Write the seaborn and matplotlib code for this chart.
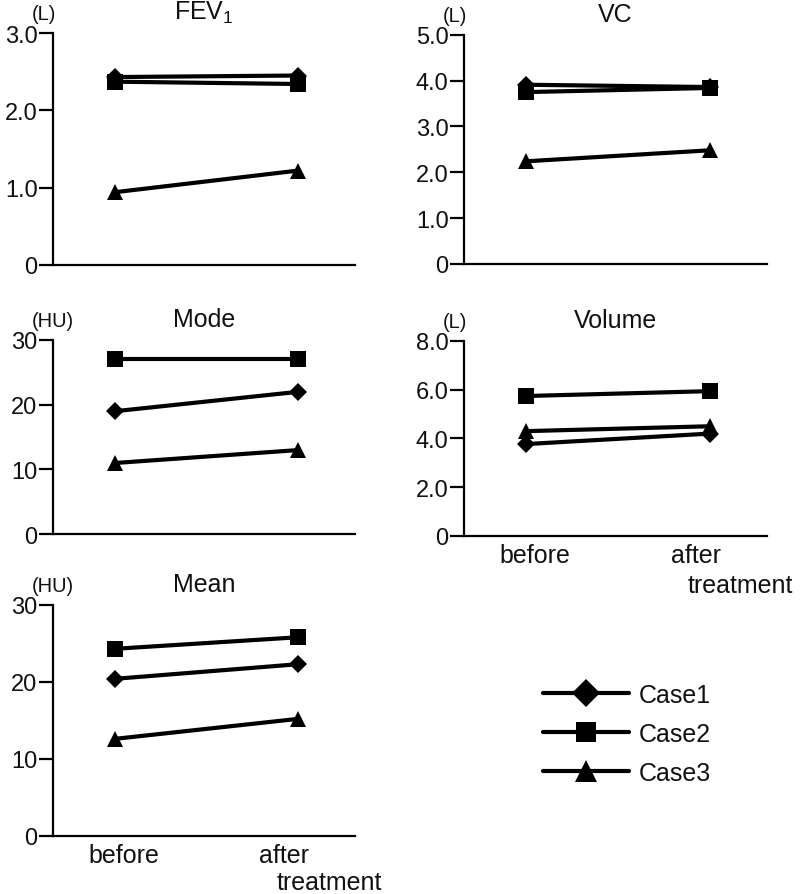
import numpy as np
import pandas as pd
import matplotlib
matplotlib.use('Agg')
import matplotlib.pyplot as plt
from matplotlib.transforms import ScaledTranslation
import seaborn as sns

cases = ['Case1', 'Case2', 'Case3']
timepoints = ['before', 'after']

# values per case: [before, after]
fev1 = [[2.43, 2.45], [2.37, 2.34], [0.94, 1.22]]
vc = [[3.91, 3.86], [3.75, 3.84], [2.24, 2.48]]
mode = [[19, 22], [27, 27], [11, 13]]
volume = [[3.77, 4.20], [5.74, 5.94], [4.30, 4.50]]
mean = [[20.4, 22.3], [24.3, 25.8], [12.6, 15.2]]

fev1_ticks = [0, 1.0, 2.0, 3.0]
vc_ticks = [0, 1.0, 2.0, 3.0, 4.0, 5.0]
hu_ticks = [0, 10, 20, 30]
volume_ticks = [0, 2.0, 4.0, 6.0, 8.0]


def to_long(values):
    rows = []
    for case, vals in zip(cases, values):
        for i, v in enumerate(vals):
            rows.append({'Case': case, 'x': i, 'value': v})
    return pd.DataFrame(rows)


sns.set_theme(style='white')
plt.rcParams['font.family'] = ['Liberation Sans', 'DejaVu Sans']
plt.rcParams['mathtext.fontset'] = 'custom'
plt.rcParams['mathtext.rm'] = 'Liberation Sans'

TXT = '#111111'
fig = plt.figure(figsize=(8, 8.95), dpi=100)

panels = [
    # title, unit, data, ticks, rect, show x labels
    (r'FEV$\mathregular{_1}$', '(L)', fev1, fev1_ticks, [0.066, 0.703, 0.378, 0.259], False),
    ('VC', '(L)', vc, vc_ticks, [0.580, 0.704, 0.379, 0.256], False),
    ('Mode', '(HU)', mode, hu_ticks, [0.066, 0.402, 0.378, 0.217], False),
    ('Volume', '(L)', volume, volume_ticks, [0.580, 0.400, 0.379, 0.218], True),
    ('Mean', '(HU)', mean, hu_ticks, [0.066, 0.065, 0.378, 0.258], True),
]

markers = {'Case1': 'D', 'Case2': 's', 'Case3': '^'}
sizes = {'Case1': 9, 'Case2': 11.5, 'Case3': 12}
legend_sizes = {'Case1': 14, 'Case2': 14, 'Case3': 16}

for title, unit, data, ticks, rect, show_x in panels:
    ax = fig.add_axes(rect)
    df = to_long(data)
    for case in cases:
        sub = df[df['Case'] == case]
        sns.lineplot(data=sub, x='x', y='value', color='black', marker=markers[case],
                     markersize=sizes[case], markeredgewidth=0, linewidth=3,
                     ax=ax, label=case, legend=False, clip_on=False)
    ax.set_xlim(-0.34, 1.31)
    ax.set_ylim(0, ticks[-1])
    ax.set_yticks(ticks)
    ax.set_yticklabels(['0'] + [f'{t:.1f}' if isinstance(t, float) else str(t) for t in ticks[1:]],
                       fontsize=17)
    ax.set_xlabel('')
    ax.set_ylabel('')
    for s in ['top', 'right']:
        ax.spines[s].set_visible(False)
    for s in ['left', 'bottom']:
        ax.spines[s].set_linewidth(1.6)
        ax.spines[s].set_color('black')
    ax.tick_params(axis='y', direction='out', length=10, width=1.6, color='black',
                   left=True, pad=1, labelcolor=TXT)
    ax.tick_params(axis='x', length=0)
    if show_x:
        ax.set_xticks([0, 1])
        ax.set_xticklabels(timepoints, fontsize=18, color=TXT)
        ax.tick_params(axis='x', pad=5)
        shifts = [6 / 72, -10 / 72]
        for lab, dx in zip(ax.get_xticklabels(), shifts):
            lab.set_transform(lab.get_transform() + ScaledTranslation(dx, 0, fig.dpi_scale_trans))
        dy = -33 if title == 'Mean' else -35
        ax.annotate('treatment', xy=(1, 0), xycoords=('data', 'axes fraction'),
                    xytext=(-16, dy), textcoords='offset points',
                    ha='left', va='center', fontsize=18, color=TXT)
    else:
        ax.set_xticks([])
    ax.set_title(title, fontsize=18, pad=10, color=TXT)
    ax.annotate(unit, xy=(0, 1), xycoords='axes fraction',
                xytext=(-15, 10), textcoords='offset points',
                fontsize=14.5, ha='left', va='baseline', color=TXT)

    if title == 'Mode':
        handles, labels = ax.get_legend_handles_labels()

leg = fig.legend(handles, labels, loc='upper left', bbox_to_anchor=(0.65, 0.261),
                 frameon=False, fontsize=18, handlelength=3.45, labelspacing=0.6,
                 handletextpad=0.4)
for h, case in zip(leg.legend_handles, labels):
    h.set_markersize(legend_sizes[case])
for t in leg.get_texts():
    t.set_color(TXT)

fig.savefig('out.png', dpi=100)
